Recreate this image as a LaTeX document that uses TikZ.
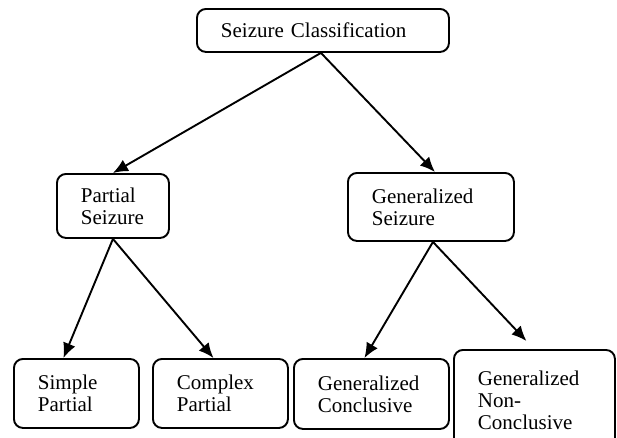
\documentclass[tikz,border=0pt]{standalone}
\usepackage{fontspec}
\setmainfont{Liberation Serif}
\usetikzlibrary{arrows.meta}
\begin{document}
\begin{tikzpicture}[x=1pt,y=-1pt,
  box/.style={draw=black, line width=1.9pt, rounded corners=9pt, anchor=north west,
    align=left, inner xsep=24pt, inner ysep=0pt,
    font=\fontsize{21}{22}\selectfont},
  conn/.style={line width=1.9pt, -{Latex[length=15pt,width=13pt]}}]
\useasboundingbox (0,0) rectangle (617,437);
\clip (0,0) rectangle (617,437);
\fill[white] (0,0) rectangle (617,437);
\node[box, minimum width=252pt, minimum height=43pt, text width=204pt] (top) at (196,8) {Seizure Classification};
\node[box, minimum width=112pt, minimum height=64pt, text width=64pt] (ps) at (56,173) {Partial\\Seizure};
\node[box, minimum width=166pt, minimum height=68pt, text width=118pt] (gs) at (347,172) {Generalized\\Seizure};
\node[box, minimum width=125pt, minimum height=69pt, text width=77pt] (sp) at (13,358) {Simple\\Partial};
\node[box, minimum width=135pt, minimum height=69pt, text width=87pt] (cp) at (152,358) {Complex\\Partial};
\node[box, minimum width=155pt, minimum height=70pt, text width=107pt] (gc) at (293,358) {Generalized\\Conclusive};
\node[box, minimum width=161pt, minimum height=100pt, text width=113pt] (gn) at (453,349) {Generalized\\Non-\\Conclusive};
\draw[conn] ([xshift=-2pt]top.south) -- (ps.north);
\draw[conn] ([xshift=-2pt]top.south) -- ([xshift=4pt]gs.north);
\draw[conn] (ps.south) -- ([xshift=-13pt]sp.north);
\draw[conn] (ps.south) -- ([xshift=-7pt]cp.north);
\draw[conn] ([xshift=2pt]gs.south) -- ([xshift=-7pt]gc.north);
\draw[conn] ([xshift=2pt]gs.south) -- ([xshift=-8pt,yshift=8pt]gn.north);
\end{tikzpicture}
\end{document}
